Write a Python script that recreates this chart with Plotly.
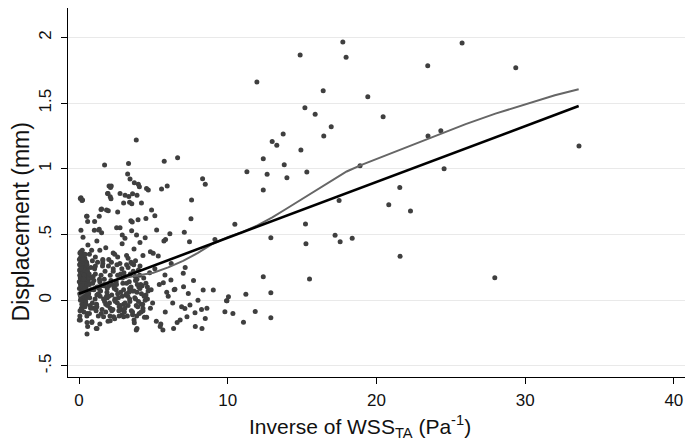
import plotly.graph_objects as go

# ---- data: dense strip near x=0 ----
stripX = [0.03,0.08,0.12,0.17,0.22,0.27,0.31,0.36,0.41,0.46,
          0.05,0.09,0.14,0.19,0.24,0.28,0.33,0.38,0.43,0.51,
          0.02,0.07,0.11,0.16,0.21,0.26,0.30,0.35,0.40,0.48,
          0.04,0.10,0.13,0.18,0.23,0.29,0.34,0.39,0.44,0.55,
          0.06,0.12,0.15,0.20,0.25,0.32,0.37,0.42,0.47,0.58,
          0.03,0.09,0.16,0.22,0.27,0.31,0.36,0.45,0.52,0.60,
          0.05,0.11,0.14,0.19,0.24,0.30,0.34,0.41,0.49,0.56,
          0.02,0.08,0.13,0.18,0.26,0.33,0.38,0.46,0.53,0.62,
          0.04,0.10,0.15,0.21,0.28,0.35,0.43,0.50,0.57,0.65,
          0.06,0.12,0.18,0.25,0.32,0.39,0.47,0.54,0.61,0.68]
stripY = [0.31,0.22,0.15,0.08,0.02,-0.04,0.12,0.26,0.35,0.18,
          0.05,0.28,0.19,0.33,0.11,0.24,-0.02,0.07,0.16,0.29,
          0.14,-0.08,0.36,0.25,0.17,0.04,0.30,0.21,-0.05,0.10,
          0.23,0.12,0.01,0.27,0.34,0.09,0.18,0.32,0.06,-0.10,
          -0.12,0.37,0.20,0.13,0.29,0.22,0.03,0.15,0.26,0.20,
          0.09,0.17,-0.06,0.38,0.01,0.31,0.25,-0.01,0.12,0.05,
          0.19,0.03,0.26,-0.03,0.21,0.14,0.35,0.28,0.08,0.24,
          -0.15,0.32,0.10,0.06,0.16,-0.09,0.23,0.19,-0.12,0.15,
          0.27,0.00,0.34,0.11,0.07,0.19,0.30,0.02,0.22,0.13,
          0.36,0.24,-0.07,0.31,0.16,0.09,-0.03,0.27,0.04,0.18]

# ---- blob x 0.6-5 ----
blobX = [0.7,0.9,1.1,1.3,1.5,1.7,1.9,2.1,2.3,2.5,2.7,2.9,3.1,3.3,3.5,3.7,3.9,4.1,4.3,4.6,
         0.8,1.0,1.2,1.4,1.6,1.8,2.0,2.2,2.4,2.6,2.8,3.0,3.2,3.4,3.6,3.8,4.0,4.2,4.5,4.8,
         0.65,0.95,1.25,1.55,1.85,2.15,2.45,2.75,3.05,3.35,3.65,3.95,4.25,4.55,4.85,
         0.75,1.05,1.35,1.65,1.95,2.25,2.55,2.85,3.15,3.45,3.75,4.05,4.35,4.65,4.95,
         0.85,1.15,1.45,1.75,2.05,2.35,2.65,2.95,3.25,3.55,3.85,4.15,4.45,4.75,
         0.7,1.0,1.3,1.6,1.9,2.2,2.5,2.8,3.1,3.4,3.7,4.0,4.3,4.6,
         0.9,1.2,1.5,1.8,2.1,2.4,2.7,3.0,3.3,3.6,3.9,4.2,4.5,
         0.8,1.1,1.4,1.7,2.0,2.3,2.6,2.9,3.2,3.5,3.8,4.1,4.4,
         0.72,0.98,1.22,1.48,1.72,1.98,2.28,2.52,2.78,3.02,3.28,3.52,3.78,4.02,4.28,
         0.68,0.92,1.18,1.42,1.68,1.92,2.18,2.42,2.68,2.92,3.18,3.42,3.68,3.92,4.18,
         0.78,1.08,1.38,1.58,1.88,2.08,2.38,2.58,2.88,3.08,3.38,3.58,3.88,4.08,4.38]
blobY = [0.12,-0.02,0.20,0.05,-0.10,0.16,0.02,-0.06,0.24,0.08,-0.12,0.03,0.18,-0.04,0.10,-0.15,0.06,0.26,-0.08,0.01,
         0.25,0.08,-0.05,0.14,0.28,-0.09,0.11,0.04,-0.14,0.19,0.06,-0.03,0.27,0.09,-0.11,0.15,-0.01,0.05,0.13,-0.06,
         0.05,0.18,0.29,-0.07,0.03,0.15,-0.01,0.28,-0.09,0.06,0.22,-0.05,0.11,-0.13,0.08,
         -0.04,0.24,0.09,0.01,-0.16,0.12,0.27,-0.07,0.04,0.20,0.02,-0.10,0.17,0.07,-0.02,
         0.17,-0.08,0.07,0.22,-0.02,0.10,0.02,0.13,-0.12,0.28,-0.04,0.12,0.00,0.21,
         -0.10,0.15,-0.12,0.30,0.09,-0.08,0.14,0.20,-0.02,0.01,0.07,0.23,-0.06,0.10,
         0.30,0.04,0.11,-0.03,0.19,0.00,-0.05,0.08,0.25,-0.09,0.16,-0.03,0.04,
         0.08,0.26,-0.18,0.12,0.03,0.22,0.05,-0.11,0.13,0.29,0.01,0.09,-0.13,
         0.02,-0.06,0.10,0.19,-0.01,0.26,-0.07,0.12,-0.04,0.21,0.03,-0.08,0.18,0.10,-0.03,
         0.20,0.13,-0.03,0.03,0.11,-0.04,0.29,0.01,-0.08,0.17,0.05,-0.01,0.27,0.12,-0.09,
         -0.06,0.01,0.16,0.26,0.06,-0.12,0.09,-0.02,0.24,-0.06,0.14,0.07,-0.12,0.19,0.03]

# ---- upper sparse points x 0-5 ----
upX = [0.09,0.2,0.13,0.24,0.54,0.51,0.13,0.27,0.58,1.72,2.17,1.95,2.1,1.48,1.36,1.05,1.32,
       3.33,3.27,3.43,3.72,3.99,4.06,2.02,2.12,1.92,2.15,2.76,3.1,3.35,3.6,3.9,4.54,4.66,
       3.0,3.4,3.55,4.2,1.52,1.85,1.97,2.6,3.49,3.58,3.97,4.5,1.03,1.36,1.52,2.53,2.76,2.91,3.09,
       3.54,3.87,4.45,3.85,0.6,0.85,1.2,1.8,2.3,2.9,3.2,3.7,4.1,4.8,1.1,1.6,2.4,3.3,4.3,
       0.7,1.4,2.0,2.6,3.8]
upY = [0.775,0.76,0.78,0.762,0.64,0.64,0.532,0.479,0.6,1.03,0.869,0.813,0.788,0.69,0.64,0.6,0.534,
       1.04,0.96,0.922,0.894,0.882,0.864,0.869,0.859,0.813,0.772,0.813,0.80,0.79,0.81,0.80,0.85,0.839,
       0.74,0.745,0.735,0.74,0.694,0.686,0.681,0.671,0.605,0.595,0.613,0.623,0.532,0.54,0.514,0.552,0.552,0.496,0.471,
       0.529,0.496,0.476,1.22,0.42,0.38,0.45,0.40,0.36,0.43,0.34,0.39,0.44,0.37,0.33,0.31,0.35,0.32,0.34,
       0.35,0.38,0.31,0.33,0.30]

# ---- lower negative points x 0-5 ----
lowX = [0.54,0.09,0.54,0.87,1.16,1.65,2.1,2.33,3.0,3.72,3.9,3.85,1.21,0.86,0.58]
lowY = [-0.257,-0.15,-0.17,-0.164,-0.214,-0.125,-0.156,-0.125,-0.125,-0.171,-0.214,-0.227,-0.214,-0.17,-0.2]

# ---- middle points x 5-10 ----
midX = [5.73,6.63,8.31,8.49,5.55,5.93,7.57,4.88,5.1,7.53,5.22,6.11,7.08,9.14,5.82,5.71,7.43,4.99,5.33,5.78,
        7.01,5.67,6.18,6.45,7.35,8.35,9.03,9.92,7.46,6.9,7.12,8.24,7.8,9.81,9.95,10.05,8.49,8.27,7.82,7.26,
        6.36,5.64,5.46,7.03,7.14,6.0,6.3,5.2,5.5,6.8,8.0,8.6,5.9,6.6,5.4,6.2,5.1,5.8,6.4,7.7]
midY = [1.057,1.085,0.925,0.882,0.846,0.869,0.763,0.686,0.643,0.62,0.534,0.506,0.517,0.463,0.463,0.45,0.445,0.357,0.336,0.192,
        0.205,0.133,0.154,0.083,0.052,0.078,0.078,-0.004,-0.037,-0.05,-0.062,-0.07,-0.095,-0.087,-0.004,0.027,-0.138,-0.214,-0.2,-0.125,
        -0.214,-0.227,-0.2,0.103,0.25,0.03,-0.02,-0.16,-0.18,-0.15,0.0,-0.06,0.06,-0.17,0.12,0.28,0.24,-0.09,0.08,0.15]

# ---- far sparse points x > 10 ----
farX = [11.96,14.87,17.74,17.96,25.76,23.45,29.37,16.42,19.42,15.19,15.88,20.45,16.96,13.73,16.46,23.47,24.33,12.99,13.3,14.92,
        12.39,13.8,18.9,12.65,13.98,15.32,24.55,12.39,21.57,17.49,20.83,22.29,15.23,12.9,17.22,17.56,18.37,15.26,21.59,12.39,
        15.5,27.96,12.9,11.85,12.9,33.62,11.29,10.48,11.22,10.35,11.06]
farY = [1.66,1.866,1.965,1.85,1.957,1.785,1.77,1.595,1.549,1.465,1.415,1.397,1.32,1.265,1.25,1.25,1.29,1.209,1.179,1.143,
        1.077,1.031,1.024,0.958,0.932,0.976,1.0,0.839,0.859,0.76,0.727,0.679,0.58,0.476,0.494,0.445,0.471,0.43,0.334,0.179,
        0.161,0.171,0.057,-0.085,-0.133,1.173,0.978,0.578,0.045,-0.1,-0.168]

# ---- fitted lines ----
linX = [0.0, 33.6]
linY = [0.05, 1.478]
lowessX = [0, 0.5, 1, 2, 3, 4, 5, 6, 7, 8, 9, 10, 11, 12, 13, 14, 15, 16, 17, 18, 19, 20, 22, 24, 26, 28, 30, 32, 33.6]
lowessY = [0.03, 0.07, 0.10, 0.14, 0.17, 0.19, 0.21, 0.25, 0.30, 0.36, 0.43, 0.48, 0.52, 0.57, 0.63, 0.70, 0.77,
           0.84, 0.91, 0.98, 1.03, 1.075, 1.165, 1.255, 1.34, 1.42, 1.49, 1.56, 1.605]

ytick_vals = [-0.5, 0, 0.5, 1, 1.5, 2]
ytick_text = ['-.5', '0', '.5', '1', '1.5', '2']
xtick_vals = [0, 10, 20, 30, 40]
x_title = 'Inverse of WSS<sub>TA</sub> (Pa<sup>-1</sup>)'
y_title = 'Displacement (mm)'

allX = stripX + blobX + upX + lowX + midX + farX
allY = stripY + blobY + upY + lowY + midY + farY

fig = go.Figure()
fig.add_trace(go.Scatter(x=allX, y=allY, mode='markers',
                         marker=dict(size=5, color='#3f3f3f', line=dict(width=0)),
                         showlegend=False, hoverinfo='skip'))
fig.add_trace(go.Scatter(x=lowessX, y=lowessY, mode='lines',
                         line=dict(color='#666666', width=2), showlegend=False))
fig.add_trace(go.Scatter(x=linX, y=linY, mode='lines',
                         line=dict(color='#000000', width=2.6), showlegend=False))

font_family = 'Liberation Sans, Arial, sans-serif'
fig.update_layout(
    width=686, height=439,
    margin=dict(l=60, r=9, t=0, b=70),
    paper_bgcolor='white', plot_bgcolor='white',
    font=dict(family=font_family, size=17, color='#111111'),
    xaxis=dict(range=[-0.74, 40.75], tickvals=xtick_vals, showgrid=False, zeroline=False,
               automargin=False,
               showline=True, linecolor='black', linewidth=1,
               ticks='outside', ticklen=6, tickcolor='black',
               tickfont=dict(size=17), ticklabelstandoff=2),
    yaxis=dict(range=[-0.584, 2.224], tickvals=ytick_vals, ticktext=ytick_text, tickangle=-90,
               automargin=False,
               showgrid=True, gridcolor='#e9e9e9', gridwidth=1, zeroline=False,
               showline=True, linecolor='black', linewidth=1,
               ticks='outside', ticklen=6, tickcolor='black',
               tickfont=dict(size=17), ticklabelstandoff=3),
    annotations=[
        dict(text=x_title, xref='paper', yref='paper', x=0.4725, y=-0.134,
             xanchor='center', yanchor='middle', showarrow=False,
             font=dict(size=21, color='#111111')),
        dict(text=y_title, xref='paper', yref='paper', x=-0.0755, y=0.42,
             xanchor='center', yanchor='middle', showarrow=False, textangle=-90,
             borderpad=0,
             font=dict(size=23, color='#111111')),
    ],
)

fig.write_html("out.html")
